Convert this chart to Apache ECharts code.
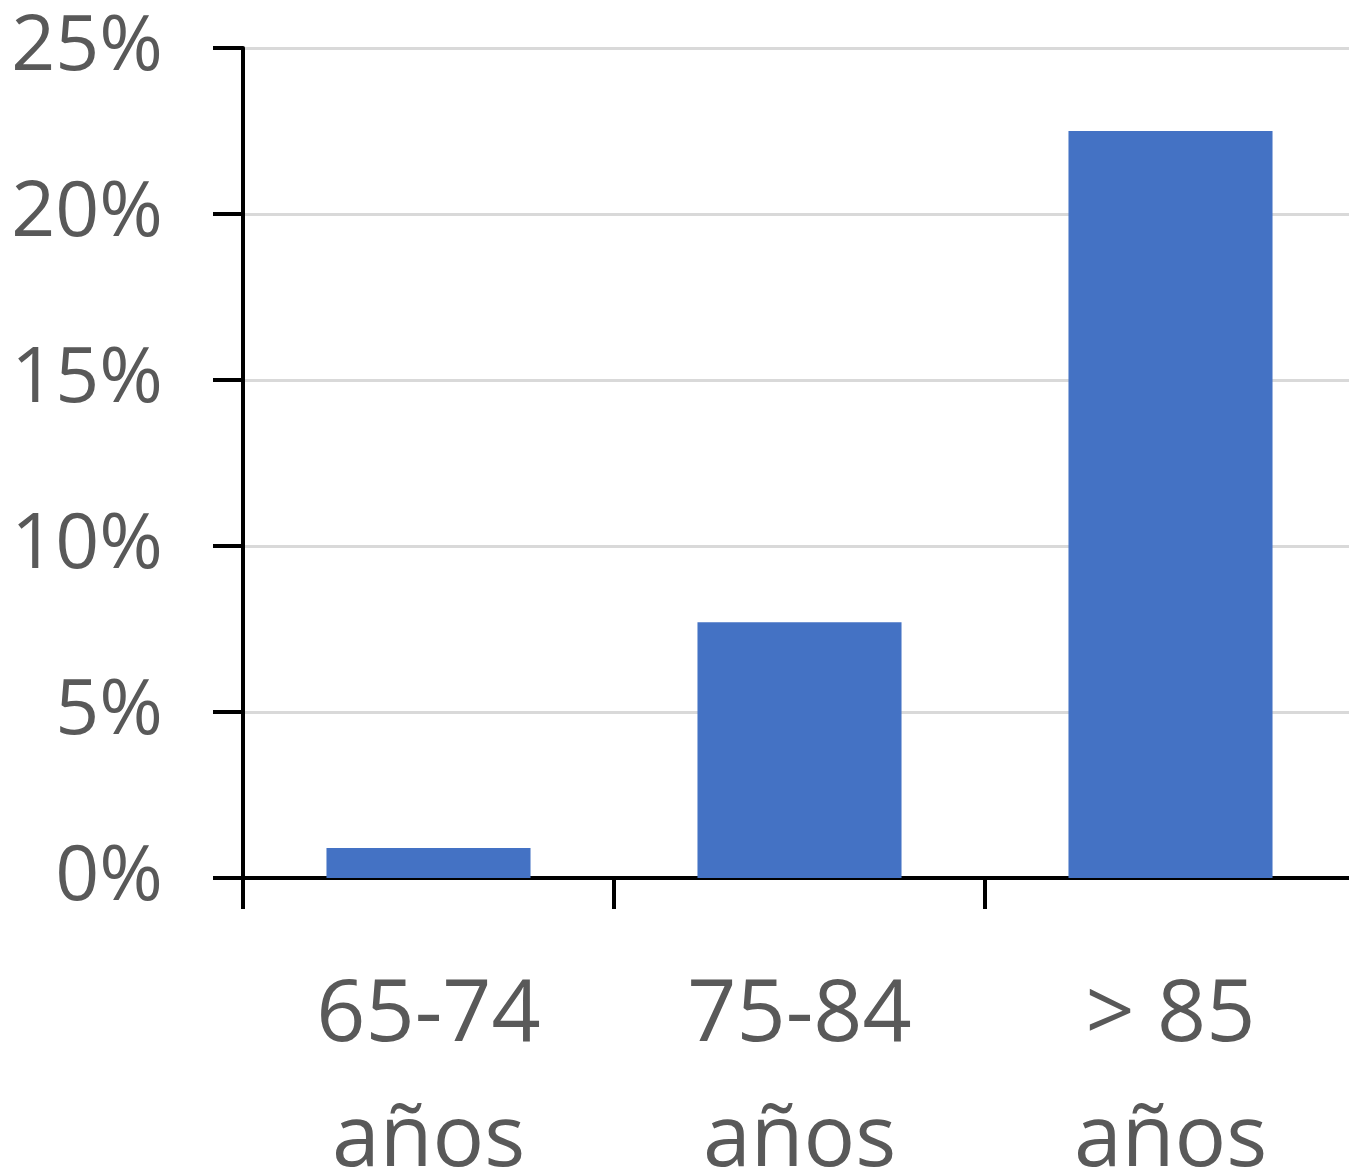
<!DOCTYPE html>
<html>
<head>
<meta charset="utf-8">
<script src="https://cdn.jsdelivr.net/npm/echarts@6/dist/echarts.min.js"></script>
<style>html,body{margin:0;padding:0;background:#fff;}#c{width:1349px;height:1174px;}</style>
</head>
<body>
<div id="c"></div>
<script>
const categories = ['65-74\naños', '75-84\naños', '> 85\naños'];
const values = [0.9, 7.7, 22.5];
const yMin = 0, yMax = 25, yStep = 5;

const chart = echarts.init(document.getElementById('c'), null, {renderer: 'canvas'});
chart.setOption({
  animation: false,
  backgroundColor: '#ffffff',
  grid: {left: 243, top: 48, right: -7, bottom: 296, containLabel: false, outerBoundsMode: 'none'},
  xAxis: {
    type: 'category',
    data: categories,
    axisLine: {show: true, lineStyle: {color: '#000000', width: 4}},
    axisTick: {show: true, length: 31, lineStyle: {color: '#000000', width: 4}},
    axisLabel: {
      color: '#595959', fontSize: 86, fontFamily: 'Open Sans',
      lineHeight: 125, margin: 76, interval: 0
    }
  },
  yAxis: {
    type: 'value',
    min: yMin, max: yMax, interval: yStep,
    axisLine: {show: true, lineStyle: {color: '#000000', width: 4}},
    axisTick: {show: true, length: 30, lineStyle: {color: '#000000', width: 4}},
    axisLabel: {
      color: '#595959', fontSize: 77, fontFamily: 'Open Sans',
      margin: 80, formatter: '{value}%'
    },
    splitLine: {show: true, lineStyle: {color: '#d9d9d9', width: 3}}
  },
  series: [{
    type: 'bar',
    data: values,
    barWidth: '55%',
    itemStyle: {color: '#4472C4'}
  }]
});
</script>
</body>
</html>
